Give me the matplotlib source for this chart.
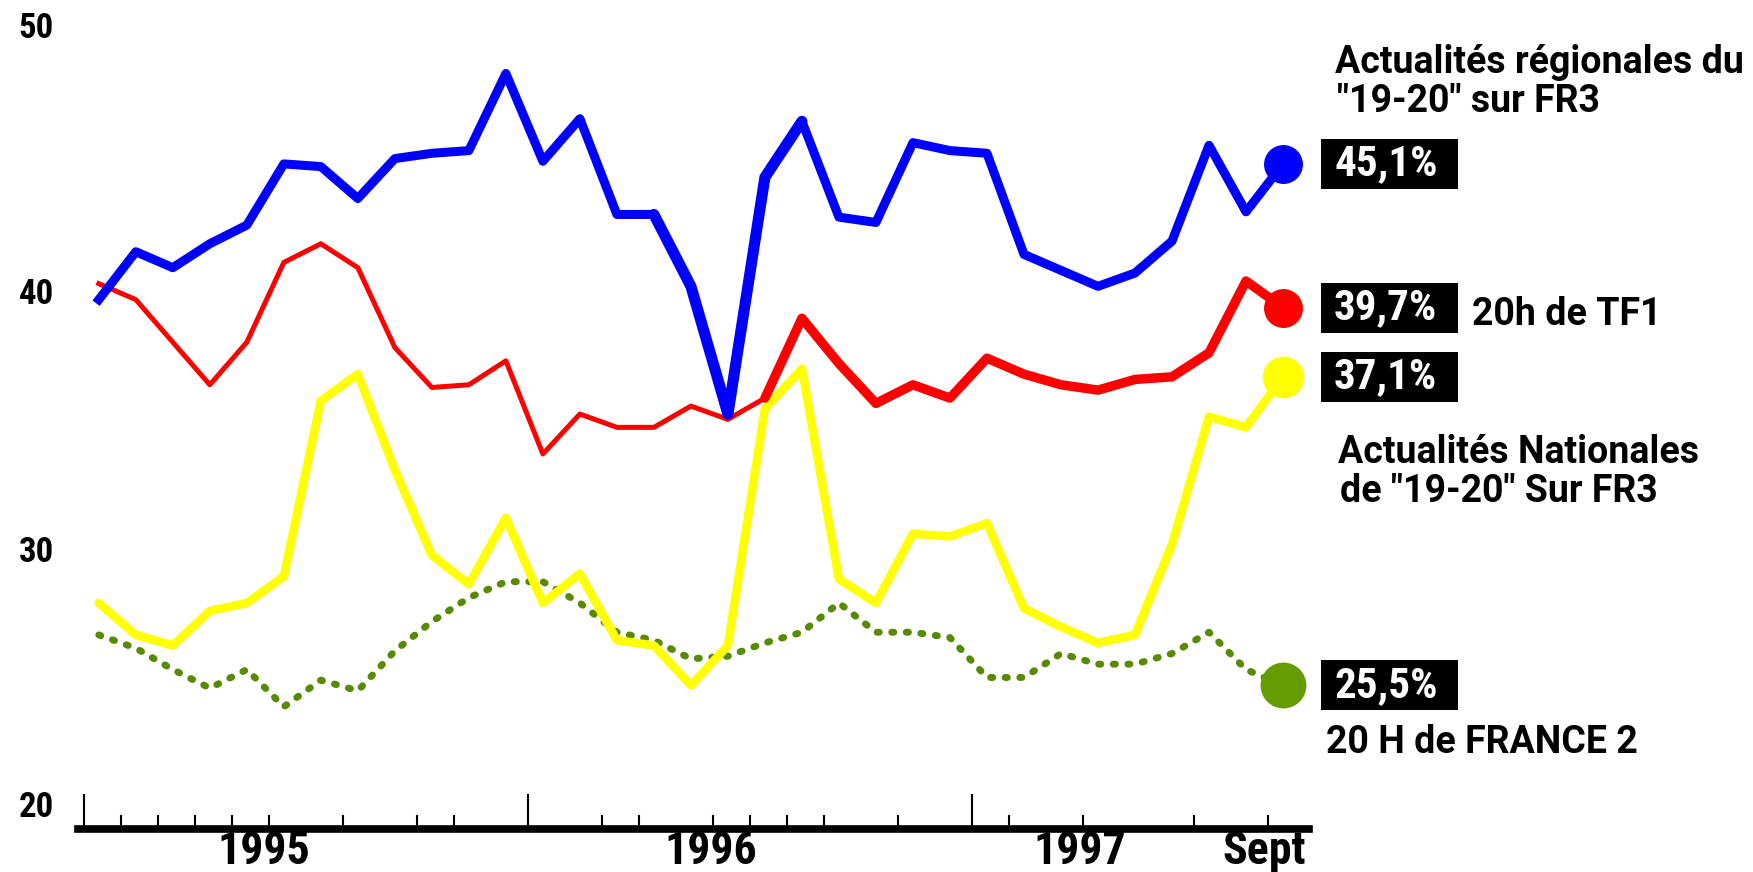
import numpy as np
import matplotlib.pyplot as plt
import matplotlib.transforms as mtransforms
from matplotlib.patches import Rectangle

# mois depuis janvier 1995 (un point par mois, jusqu'a septembre 1997)
mois = np.arange(33) + 0.4

regional_fr3 = [40.0, 41.8, 41.2, 42.1, 42.8, 45.1, 45.0, 43.8, 45.3, 45.5, 45.6, 48.5, 45.2, 46.8, 43.2, 43.2, 40.5,
                35.7, 44.6, 46.7, 43.1, 42.9, 45.9, 45.6, 45.5, 41.7, 41.1, 40.5, 41.0, 42.2, 45.8, 43.3, 45.1]
tf1 = [40.6, 40.0, 38.4, 36.8, 38.4, 41.4, 42.1, 41.2, 38.2, 36.7, 36.8, 37.7, 34.2, 35.7, 35.2, 35.2, 36.0,
       35.5, 36.3, 39.3, 37.6, 36.1, 36.8, 36.3, 37.8, 37.2, 36.8, 36.6, 37.0, 37.1, 38.0, 40.7, 39.7]
national_fr3 = [28.6, 27.4, 27.0, 28.3, 28.6, 29.6, 36.2, 37.2, 33.6, 30.4, 29.3, 31.8, 28.6, 29.7, 27.2, 27.0, 25.5,
                27.0, 35.9, 37.4, 29.5, 28.6, 31.2, 31.1, 31.6, 28.4, 27.7, 27.1, 27.4, 30.8, 35.6, 35.2, 37.1]
france2 = [27.4, 26.9, 26.1, 25.4, 26.1, 24.7, 25.7, 25.3, 26.8, 27.9, 28.8, 29.4, 29.4, 28.6, 27.5, 27.2, 26.5,
           26.6, 27.1, 27.5, 28.6, 27.5, 27.5, 27.3, 25.8, 25.8, 26.7, 26.3, 26.3, 26.7, 27.5, 26.1, 25.5]

# graduations de l'axe (en mois) et libelles
ticks_annee = [0, 12, 24]
ticks_mois = [1, 2, 3, 4, 5, 7, 9, 10, 14, 15, 17, 18, 19, 20, 22, 25, 27, 30, 32]
libelles_x = ['1995', '1996', '1997', 'Sept']
pos_libelles_x = [4.85, 16.95, 26.9, 31.9]
ticks_y = [50, 40, 30, 20]

etiquettes = ['45,1%', '39,7%', '37,1%', '25,5%']

W, H = 1753, 872
COND = ['Roboto Condensed', 'DejaVu Sans']
LEG = ['Roboto', 'DejaVu Sans']


def px(x, y):
    # pixels de l'image -> fraction de la figure
    return x / W, 1 - y / H


fig = plt.figure(figsize=(W / 100, H / 100), dpi=100)
ax = fig.add_axes([0, 0, 1, 1])
ax.set_xlim(-2.27, 45.1)
ax.set_ylim(18.49, 51.26)
ax.set_facecolor('white')

# courbes
ax.plot(mois, france2, color='#588a00', lw=5.0, linestyle=(0, (0.3, 1.8)), dash_capstyle='round')
ax.plot(mois, national_fr3, color='#ffff00', lw=6.2, solid_joinstyle='round', solid_capstyle='round')
ax.plot(mois[:19], tf1[:19], color='#ff0000', lw=3.6, solid_joinstyle='round')
ax.plot(mois[18:], tf1[18:], color='#ff0000', lw=6.8, solid_joinstyle='round', solid_capstyle='round')
ax.plot(mois, regional_fr3, color='#0000ff', lw=6.5, solid_joinstyle='round')
ax.plot(mois[15:20], regional_fr3[15:20], color='#0000ff', lw=8.0, solid_joinstyle='round',
        solid_capstyle='round')

series = [regional_fr3, tf1, national_fr3, france2]
couleurs = ['#0000ff', '#ff0000', '#ffff00', '#669c00']
tailles = [27, 27, 29, 32]
for vals, c, ms, lab in zip(series, couleurs, tailles, etiquettes):
    ax.plot(mois[-1], vals[-1], 'o', ms=ms, color=c, mec=c)
    tr = mtransforms.Affine2D() + mtransforms.ScaledTranslation(mois[-1], vals[-1], ax.transData)
    ax.add_patch(Rectangle((38, -25), 137, 50, transform=tr, facecolor='black', edgecolor='none', zorder=5))
    ax.text(51, 0, lab, transform=tr, color='white', fontsize=31, fontweight='bold', family=COND,
            fontstretch='condensed', ha='left', va='center', zorder=6)

# axe du bas
for s in ['top', 'left', 'right']:
    ax.spines[s].set_visible(False)
ax.spines['bottom'].set_position(('data', 20.1))
ax.spines['bottom'].set_bounds(-0.15, 33.1)
ax.spines['bottom'].set_linewidth(5.5)
ax.set_xticks(ticks_annee)
ax.set_xticks(ticks_mois, minor=True)
ax.tick_params(axis='x', which='major', direction='in', length=25, width=1.5, labelbottom=False)
ax.tick_params(axis='x', which='minor', direction='in', length=10, width=1.5)
ax.set_yticks([])

bx = mtransforms.blended_transform_factory(ax.transData, fig.transFigure)
for p, lab in zip(pos_libelles_x, libelles_x):
    ax.text(p, 1 - 864 / H, lab, transform=bx, fontsize=33, fontweight='bold', family=COND,
            fontstretch='condensed', ha='center', va='baseline')

# les chiffres de l'axe vertical sont un peu decales vers le haut
decalage_y = {50: 0.2, 40: 0.2, 30: 0.5, 20: 0.9}
by = ax.get_yaxis_transform()
for v in ticks_y:
    ax.text(36 / W, v + decalage_y[v], str(v), transform=by, fontsize=25, fontweight='bold', family=COND,
            fontstretch='condensed', ha='center', va='center')

# legendes a droite
textes = [
    ('Actualités régionales du', 1335, 73),
    ('"19-20" sur FR3', 1337, 112),
    ('20h de TF1', 1472, 325),
    ('Actualités Nationales', 1338, 463),
    ('de "19-20" Sur FR3', 1340, 502),
    ('20 H de FRANCE 2', 1326, 753),
]
for t, x, y in textes:
    fig.text(*px(x, y), t, fontsize=27, fontweight='bold', family=LEG, ha='left', va='baseline')

fig.savefig('out.png', dpi=100)
